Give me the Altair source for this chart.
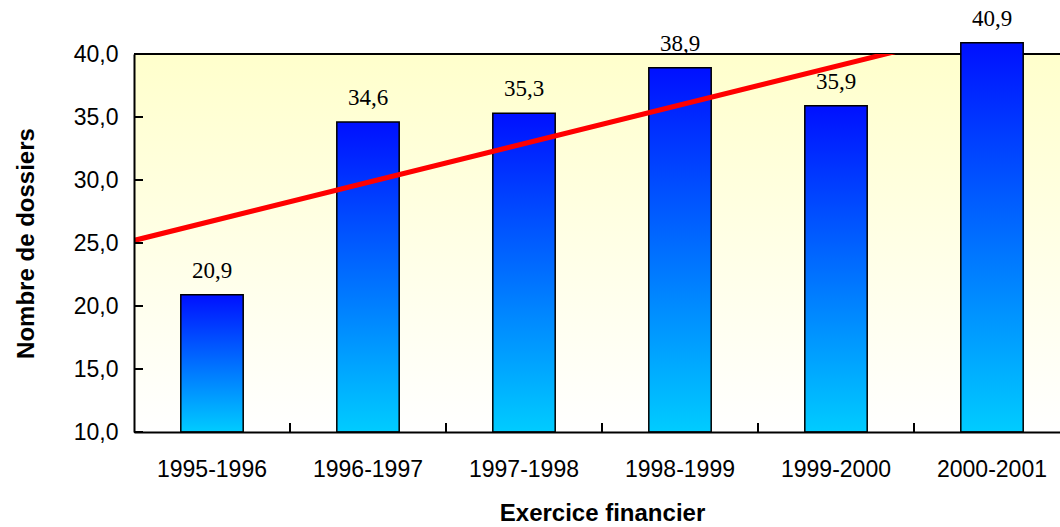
import altair as alt
import pandas as pd

# Fiscal years and the number of files handled in each
exercices = ["1995-1996", "1996-1997", "1997-1998", "1998-1999", "1999-2000", "2000-2001"]
rang = [1, 2, 3, 4, 5, 6]
dossiers = [20.9, 34.6, 35.3, 38.9, 35.9, 40.9]

# Value-axis graduations and the category boundaries on the x axis
graduations_y = [10, 15, 20, 25, 30, 35, 40]
limites_x = [1.5, 2.5, 3.5, 4.5, 5.5, 6.5]

LARGEUR = 926   # visible plot width
ETENDUE = 936   # full extent of the category scale (runs past the right edge)
HAUTEUR = 378

df = pd.DataFrame({"exercice": exercices, "rang": rang, "dossiers": dossiers})

POLICE = "Liberation Sans"
SERIF = "Liberation Serif"

y_scale = alt.Scale(domain=[10, 40], nice=False, zero=False)
x_bande = alt.Scale(domain=exercices, range=[0, ETENDUE], paddingInner=0.6, paddingOuter=0.3)
x_continu = alt.Scale(domain=[0.5, 6.5], range=[0, ETENDUE], nice=False, zero=False)

fond_degrade = {
    "gradient": "linear", "x1": 0, "y1": 0, "x2": 0, "y2": 1,
    "stops": [{"offset": 0, "color": "#FFFFCC"}, {"offset": 1, "color": "#FFFFFF"}],
}
barre_degrade = {
    "gradient": "linear", "x1": 0, "y1": 0, "x2": 0, "y2": 1,
    "stops": [{"offset": 0, "color": "#0010FF"}, {"offset": 1, "color": "#00CCFF"}],
}

unique = pd.DataFrame({"a": [0]})

# Pale yellow backdrop of the plotting area
fond = alt.Chart(unique).mark_rect(fill=fond_degrade).encode(
    x=alt.value(0), x2=alt.value(ETENDUE), y=alt.value(0), y2=alt.value(HAUTEUR)
)

# Top frame line
cadre_haut = alt.Chart(unique).mark_rule(color="black", strokeWidth=2).encode(
    x=alt.value(0), x2=alt.value(ETENDUE), y=alt.value(0)
)

barres = alt.Chart(df).mark_bar(fill=barre_degrade, stroke="black", strokeWidth=1.5).encode(
    x=alt.X(
        "exercice:N", sort=exercices, scale=x_bande,
        axis=alt.Axis(
            title="Exercice financier", labelAngle=0, ticks=False,
            labelFont=POLICE, labelFontSize=23, labelColor="black", labelPadding=26,
            titleFont=POLICE, titleFontSize=24, titleFontWeight="bold", titleColor="black",
            titlePadding=20, domainColor="black", domainWidth=2, zindex=1,
        ),
    ),
    y=alt.Y(
        "dossiers:Q", scale=y_scale,
        axis=alt.Axis(
            title="Nombre de dossiers", values=graduations_y, grid=False, ticks=False,
            labelExpr="replace(format(datum.value, '.1f'), '.', ',')",
            labelFont=POLICE, labelFontSize=23, labelColor="black", labelPadding=16,
            titleFont=POLICE, titleFontSize=24, titleFontWeight="bold", titleColor="black",
            titlePadding=35, domainColor="black", domainWidth=2, zindex=1,
        ),
    ),
    y2=alt.datum(10),
)

# Linear trend across the six fiscal years
tendance = alt.Chart(df).transform_regression(
    "rang", "dossiers", extent=[0.5, 6.5]
).mark_line(color="#FF0000", strokeWidth=5, clip=True).encode(
    x=alt.X("rang:Q", scale=x_continu, axis=None),
    y=alt.Y("dossiers:Q", scale=y_scale),
)

# Inward tick marks
ticks_x = alt.Chart(pd.DataFrame({"limite": limites_x})).mark_rule(
    color="black", strokeWidth=2
).encode(
    x=alt.X("limite:Q", scale=x_continu, axis=None),
    y=alt.value(HAUTEUR), y2=alt.value(HAUTEUR - 9),
)
ticks_y = alt.Chart(pd.DataFrame({"graduation": graduations_y})).mark_rule(
    color="black", strokeWidth=2
).encode(
    y=alt.Y("graduation:Q", scale=y_scale, title="Nombre de dossiers"),
    x=alt.value(0), x2=alt.value(9),
)

etiquettes = alt.Chart(df).transform_calculate(
    texte="replace(format(datum.dossiers, '.1f'), '.', ',')"
).mark_text(font=SERIF, fontSize=23, color="black", baseline="middle", dy=-24).encode(
    x=alt.X("exercice:N", sort=exercices, scale=x_bande, axis=None),
    y=alt.Y("dossiers:Q", scale=y_scale),
    text="texte:N",
)

chart = alt.layer(
    fond, cadre_haut, barres, tendance, ticks_x, ticks_y, etiquettes
).resolve_scale(
    x="independent"
).properties(
    width=LARGEUR, height=HAUTEUR,
    autosize=alt.AutoSizeParams(type="none"),
    padding={"left": 134, "top": 54, "right": 0, "bottom": 95},
    background="white",
).configure_view(stroke=None)

chart.save("out.html", embed_options={"renderer": "svg", "actions": False})
